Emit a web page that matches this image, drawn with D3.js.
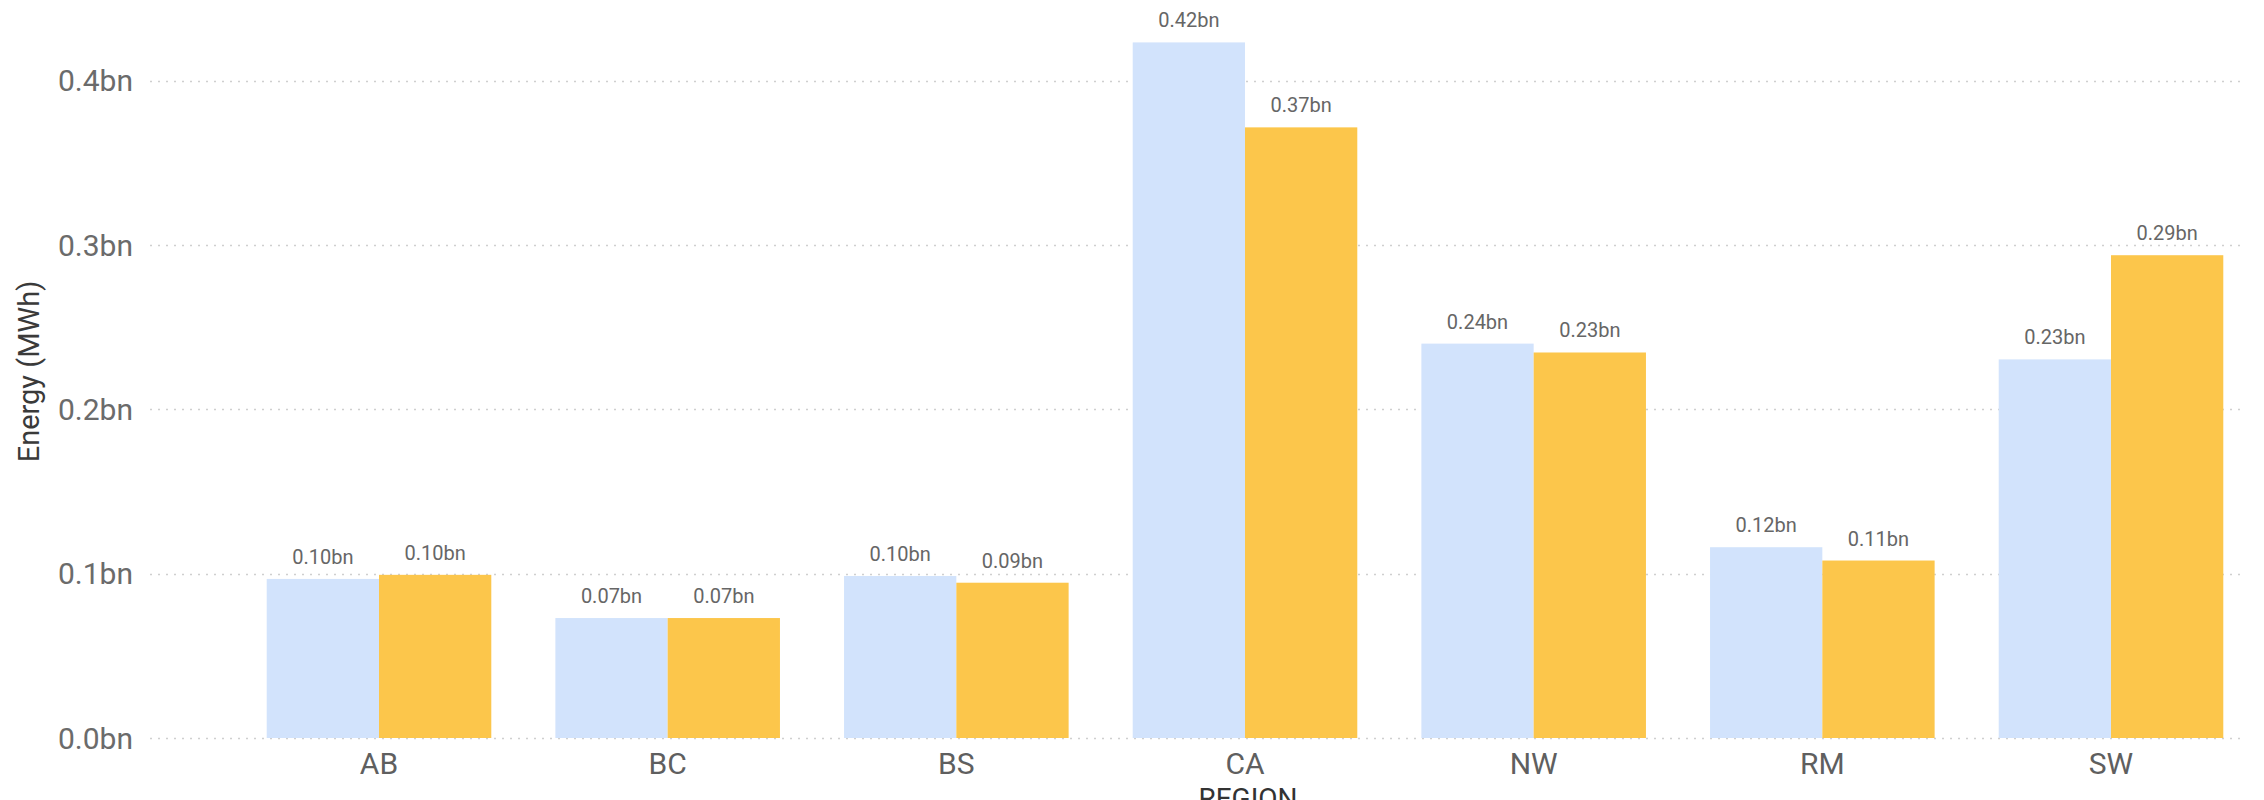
<!DOCTYPE html>
<html>
<head>
<meta charset="utf-8">
<script src="https://cdn.jsdelivr.net/npm/d3@7"></script>
<style>
  html, body { margin: 0; padding: 0; background: #fff; }
  svg { display: block; font-family: Roboto, "Noto Sans", sans-serif; }
</style>
</head>
<body>
<svg id="chart" width="2264" height="800"></svg>
<script>
const regions = ["AB", "BC", "BS", "CA", "NW", "RM", "SW"];
const seriesNames = ["Series A", "Series B"];
const seriesA = [0.0968, 0.073, 0.0986, 0.4233, 0.240, 0.1161, 0.2304];
const seriesB = [0.0993, 0.073, 0.0945, 0.3716, 0.2346, 0.108, 0.2938];
const yTicks = [0, 0.1, 0.2, 0.3, 0.4];
const colors = ["#d2e3fc", "#fcc64b"];

const svg = d3.select("#chart");

const x = d3.scaleBand().domain(regions)
  .range([234.67, 2255.33]).paddingInner(0.222).paddingOuter(0.111);
const x1 = d3.scaleBand().domain(seriesNames).range([0, x.bandwidth()]).padding(0);
const y = d3.scaleLinear().domain([0, 0.4]).range([738, 80.7]);

// grid
const grid = svg.append("g");
grid.selectAll("line").data(yTicks).join("line")
  .attr("x1", 150).attr("x2", 2244)
  .attr("y1", d => Math.round(y(d)) + 0.5).attr("y2", d => Math.round(y(d)) + 0.5)
  .attr("stroke", "#cfcfcf").attr("stroke-width", 1.5)
  .attr("stroke-dasharray", "2,6");

// y tick labels
svg.append("g").selectAll("text").data(yTicks).join("text")
  .attr("x", 133).attr("y", d => y(d))
  .attr("dy", "0.35em")
  .attr("text-anchor", "end")
  .attr("font-size", 30).attr("fill", "#6b6b6b")
  .text(d => d3.format(".1f")(d) + "bn");

// bars
const data = regions.map((r, i) => ({ region: r, vals: [seriesA[i], seriesB[i]] }));
const groups = svg.append("g").selectAll("g").data(data).join("g")
  .attr("transform", d => `translate(${x(d.region)},0)`);

groups.selectAll("rect").data(d => d.vals.map((v, j) => ({ v, s: seriesNames[j], j })))
  .join("rect")
  .attr("x", d => x1(d.s))
  .attr("width", x1.bandwidth())
  .attr("y", d => y(d.v))
  .attr("height", d => y(0) - y(d.v))
  .attr("fill", d => colors[d.j]);

groups.selectAll("text").data(d => d.vals.map((v, j) => ({ v, s: seriesNames[j], j })))
  .join("text")
  .attr("x", d => x1(d.s) + x1.bandwidth() / 2)
  .attr("y", d => y(d.v) - 15)
  .attr("text-anchor", "middle")
  .attr("font-size", 20).attr("fill", "#666")
  .text(d => d3.format(".2f")(d.v) + "bn");

// x category labels
svg.append("g").selectAll("text").data(regions).join("text")
  .attr("x", d => x(d) + x.bandwidth() / 2)
  .attr("y", 774)
  .attr("text-anchor", "middle")
  .attr("font-size", 30).attr("fill", "#5f5f5f")
  .text(d => d);

// axis titles
svg.append("text")
  .attr("x", (x.range()[0] + x.range()[1]) / 2 + 3).attr("y", 808)
  .attr("text-anchor", "middle")
  .attr("font-size", 28).attr("fill", "#333")
  .text("REGION");

svg.append("text")
  .attr("transform", "translate(38.5,371.5) rotate(-90)")
  .attr("text-anchor", "middle")
  .attr("font-size", 29).attr("fill", "#3a3a3a")
  .text("Energy (MWh)");
</script>
</body>
</html>
